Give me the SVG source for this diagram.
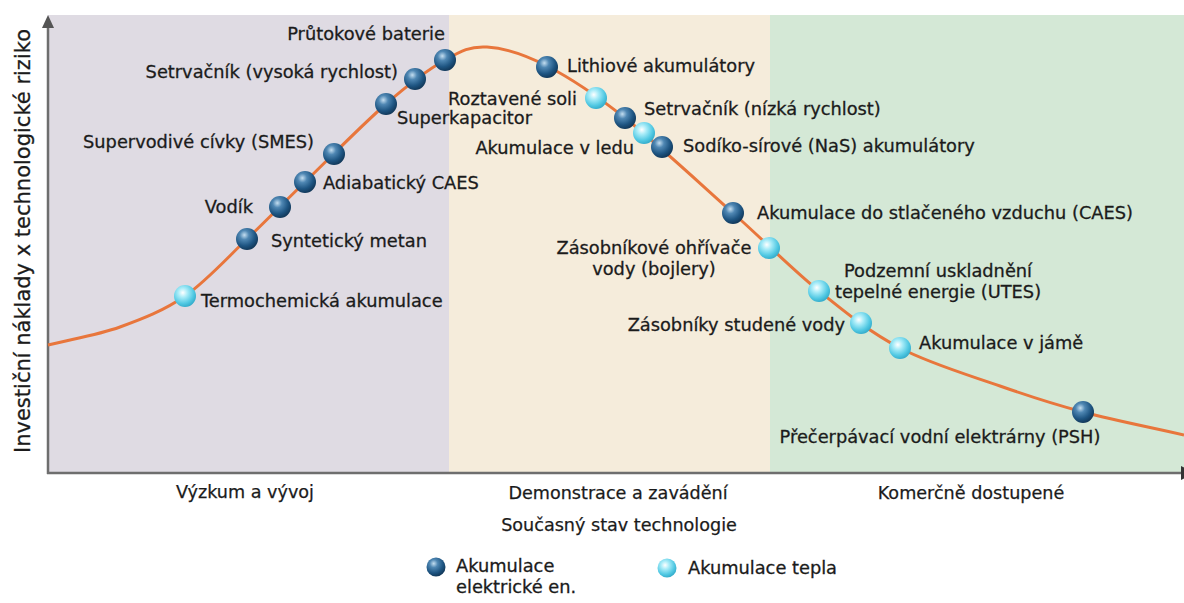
<svg xmlns="http://www.w3.org/2000/svg" width="1184" height="603" viewBox="0 0 1184 603">
  <style>
    .lbl { font-family: "DejaVu Sans", "Liberation Sans", sans-serif; font-size: 17.8px; fill: #1b1b1b; stroke: #1b1b1b; stroke-width: 0.3; }
    .cat { font-family: "DejaVu Sans", "Liberation Sans", sans-serif; font-size: 17.6px; fill: #1b1b1b; stroke: #1b1b1b; stroke-width: 0.25; }
    .axis { stroke: #6e6e6e; stroke-width: 2.5; fill: none; }
    .curve { stroke: #e8763c; stroke-width: 3; fill: none; }
    .elec { fill: url(#gElec); }
    .heat { fill: url(#gHeat); }
  </style>
  <defs>
    <radialGradient id="gElec" cx="38%" cy="32%" r="70%">
      <stop offset="0" stop-color="#c4def0"/>
      <stop offset="0.3" stop-color="#4f87b3"/>
      <stop offset="0.7" stop-color="#1e5582"/>
      <stop offset="1" stop-color="#113758"/>
    </radialGradient>
    <radialGradient id="gHeat" cx="40%" cy="35%" r="70%">
      <stop offset="0" stop-color="#ffffff"/>
      <stop offset="0.3" stop-color="#a9ecf8"/>
      <stop offset="0.7" stop-color="#52c9e3"/>
      <stop offset="1" stop-color="#2ea6c6"/>
    </radialGradient>
  </defs>

  <rect width="1184" height="603" fill="#ffffff"/>

  <!-- maturity bands -->
  <g id="bands">
    <rect x="48" y="15" width="401" height="458" fill="#dfdbe3"/>
    <rect x="449" y="15" width="321" height="458" fill="#f5ecdb"/>
    <rect x="770" y="15" width="414" height="458" fill="#d4e8d6"/>
  </g>

  <!-- axes -->
  <g id="axes">
    <line class="axis" x1="48" y1="474" x2="48" y2="26"/>
    <polygon points="42,28 48,15 54,28" fill="#555"/>
    <line class="axis" x1="47" y1="473" x2="1184" y2="473"/>
    <polygon points="1181,466 1194,473 1181,480" fill="#333"/>
    <text class="lbl" style="font-size:21px" transform="translate(30,241) rotate(-90)" text-anchor="middle">Investiční náklady x technologické riziko</text>
  </g>

  <!-- cost/risk curve -->
  <g id="connectors">
    <path class="curve" d="M48,345 C72,339 97.2,335.2 120,327 C142.8,318.8 163.8,310.7 185,296 C206.2,281.3 227,258 247,239 C267,220 281.8,204.5 305,182 C328.2,159.5 362.7,124.3 386,104 C409.3,83.7 428.2,69.5 445,60 C461.8,50.5 470,46 487,47 C504,48 524,54.2 547,66 C570,77.8 594,93.5 625,118 C656,142.5 700.7,184.2 733,213 C765.3,241.8 791.2,268.5 819,291 C846.8,313.5 869.8,332.2 900,348 C930.2,363.8 969.5,375.3 1000,386 C1030.5,396.7 1052.3,403.8 1083,412 C1113.7,420.2 1150.3,427.3 1184,435"/>
  </g>

  <!-- technologies -->
  <g id="termochemicka">
    <circle class="heat" cx="185" cy="296" r="11"/>
    <text class="lbl" x="201" y="307">Termochemická akumulace</text>
  </g>
  <g id="synteticky-metan">
    <circle class="elec" cx="247" cy="239" r="11"/>
    <text class="lbl" x="271" y="247">Syntetický metan</text>
  </g>
  <g id="vodik">
    <circle class="elec" cx="280" cy="207" r="11"/>
    <text class="lbl" x="253" y="213" text-anchor="end">Vodík</text>
  </g>
  <g id="adiabaticky-caes">
    <circle class="elec" cx="305" cy="182" r="11"/>
    <text class="lbl" x="323" y="189">Adiabatický CAES</text>
  </g>
  <g id="smes">
    <circle class="elec" cx="334" cy="154" r="11"/>
    <text class="lbl" x="314" y="148" text-anchor="end">Supervodivé cívky (SMES)</text>
  </g>
  <g id="superkapacitor">
    <circle class="elec" cx="386" cy="104" r="11"/>
    <text class="lbl" x="397" y="124">Superkapacitor</text>
  </g>
  <g id="setrvacnik-vysoka">
    <circle class="elec" cx="415" cy="79" r="11"/>
    <text class="lbl" x="398" y="78" text-anchor="end">Setrvačník (vysoká rychlost)</text>
  </g>
  <g id="prutokove-baterie">
    <circle class="elec" cx="445" cy="60" r="11"/>
    <text class="lbl" x="445" y="40" text-anchor="end">Průtokové baterie</text>
  </g>
  <g id="lithiove">
    <circle class="elec" cx="547" cy="67" r="11"/>
    <text class="lbl" x="567" y="72">Lithiové akumulátory</text>
  </g>
  <g id="roztavene-soli">
    <circle class="heat" cx="596" cy="98" r="11"/>
    <text class="lbl" x="577" y="105" text-anchor="end">Roztavené soli</text>
  </g>
  <g id="setrvacnik-nizka">
    <circle class="elec" cx="625" cy="118" r="11"/>
    <text class="lbl" x="644" y="115">Setrvačník (nízká rychlost)</text>
  </g>
  <g id="akumulace-led">
    <circle class="heat" cx="644" cy="133" r="11"/>
    <text class="lbl" x="634" y="154" text-anchor="end">Akumulace v ledu</text>
  </g>
  <g id="nas">
    <circle class="elec" cx="662" cy="147" r="11"/>
    <text class="lbl" x="683" y="152">Sodíko-sírové (NaS) akumulátory</text>
  </g>
  <g id="caes">
    <circle class="elec" cx="733" cy="213" r="11"/>
    <text class="lbl" x="757" y="219">Akumulace do stlačeného vzduchu (CAES)</text>
  </g>
  <g id="bojlery">
    <circle class="heat" cx="769" cy="248" r="11"/>
    <text class="lbl" x="654" y="254" text-anchor="middle">Zásobníkové ohřívače</text>
    <text class="lbl" x="654" y="275" text-anchor="middle">vody (bojlery)</text>
  </g>
  <g id="utes">
    <circle class="heat" cx="819" cy="291" r="11"/>
    <text class="lbl" x="938" y="277" text-anchor="middle">Podzemní uskladnění</text>
    <text class="lbl" x="938" y="298" text-anchor="middle">tepelné energie (UTES)</text>
  </g>
  <g id="studene-vody">
    <circle class="heat" cx="861" cy="323" r="11"/>
    <text class="lbl" x="845" y="331" text-anchor="end">Zásobníky studené vody</text>
  </g>
  <g id="jama">
    <circle class="heat" cx="900" cy="348" r="11"/>
    <text class="lbl" x="919" y="349">Akumulace v jámě</text>
  </g>
  <g id="psh">
    <circle class="elec" cx="1083" cy="412" r="11"/>
    <text class="lbl" x="940" y="443" text-anchor="middle">Přečerpávací vodní elektrárny (PSH)</text>
  </g>

  <!-- maturity stages -->
  <g id="stages">
    <text class="cat" x="245" y="498" text-anchor="middle">Výzkum a vývoj</text>
    <text class="cat" x="618" y="499" text-anchor="middle">Demonstrace a zavádění</text>
    <text class="cat" x="971" y="499" text-anchor="middle">Komerčně dostupené</text>
    <text class="cat" x="619" y="531" text-anchor="middle">Současný stav technologie</text>
  </g>

  <!-- legend -->
  <g id="legend">
    <circle class="elec" cx="436" cy="567" r="9.5"/>
    <text class="lbl" x="456" y="572">Akumulace</text>
    <text class="lbl" x="456" y="593">elektrické en.</text>
    <circle class="heat" cx="667" cy="568" r="9.5"/>
    <text class="lbl" x="688" y="574">Akumulace tepla</text>
  </g>
</svg>
